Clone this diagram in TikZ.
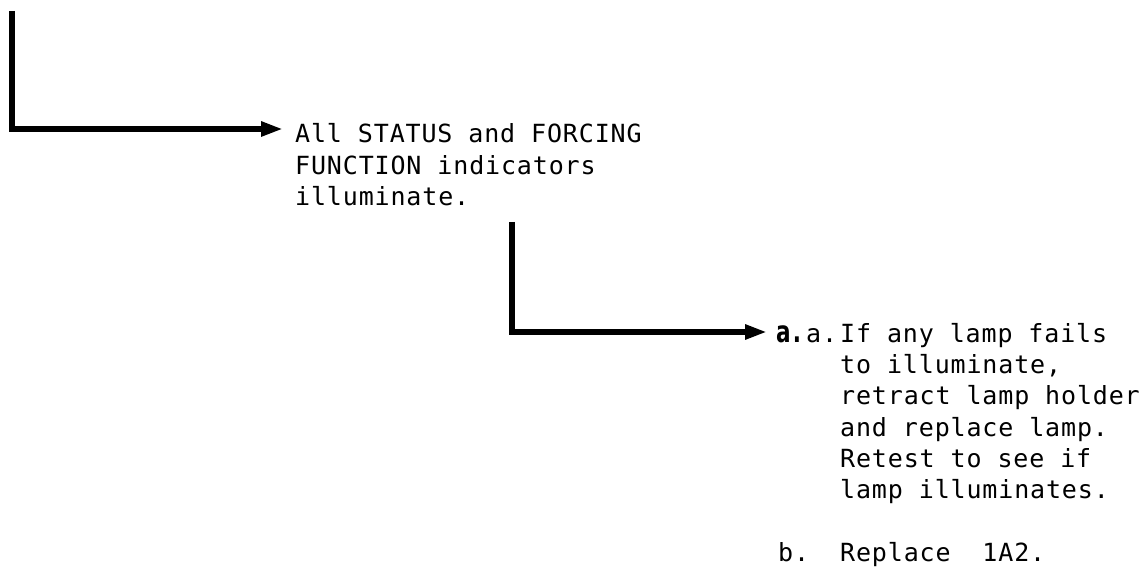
\documentclass[tikz,border=0pt]{standalone}
\usepackage{fontspec}
\usetikzlibrary{arrows.meta}
\newfontfamily\monof[LetterSpace=3.4]{DejaVu Sans Mono}
\newfontfamily\boldf[FakeStretch=0.72]{DejaVu Sans}
\tikzset{
  txt/.style={anchor=base west, inner sep=0pt, font=\monof\fontsize{25}{31}\selectfont},
  boldtxt/.style={anchor=base west, inner sep=0pt, font=\boldf\bfseries\fontsize{30}{31}\selectfont},
  conn/.style={line width=5.5pt, line join=miter, -{Triangle[length=22pt,width=14pt]}}
}
\begin{document}
\begin{tikzpicture}[x=1pt,y=-1pt]
\useasboundingbox (0,0) rectangle (1142,569);
% first step
\coordinate (s1) at (12,11);
\node[txt] (t1a) at (295,143) {All STATUS and FORCING};
\node[txt] (t1b) at (295,174.3) {FUNCTION indicators};
\node[txt] (t1c) at (295,205.6) {illuminate.};
\draw[conn] (s1) |- ([xshift=-12pt,yshift=14pt]t1a.base west);
% second step
\coordinate (s2) at (512,222);
\node[boldtxt] (ab) at (776,342) {a\kern2pt.};
\node[txt] (aa) at (806,342) {a.};
\node[txt] (t2a) at (840,342) {If any lamp fails};
\node[txt] (t2b) at (840,373.3) {to illuminate,};
\node[txt] (t2c) at (840,404.6) {retract lamp holder};
\node[txt] (t2d) at (840,436) {and replace lamp.};
\node[txt] (t2e) at (840,467.2) {Retest to see if};
\node[txt] (t2f) at (840,498.5) {lamp illuminates.};
\node[txt] (bb) at (778,561) {b.};
\node[txt] (t3) at (840,561) {Replace\ \ 1A2.};
\draw[conn] (s2) |- ([xshift=-9pt,yshift=10pt]ab.base west);
\end{tikzpicture}
\end{document}
